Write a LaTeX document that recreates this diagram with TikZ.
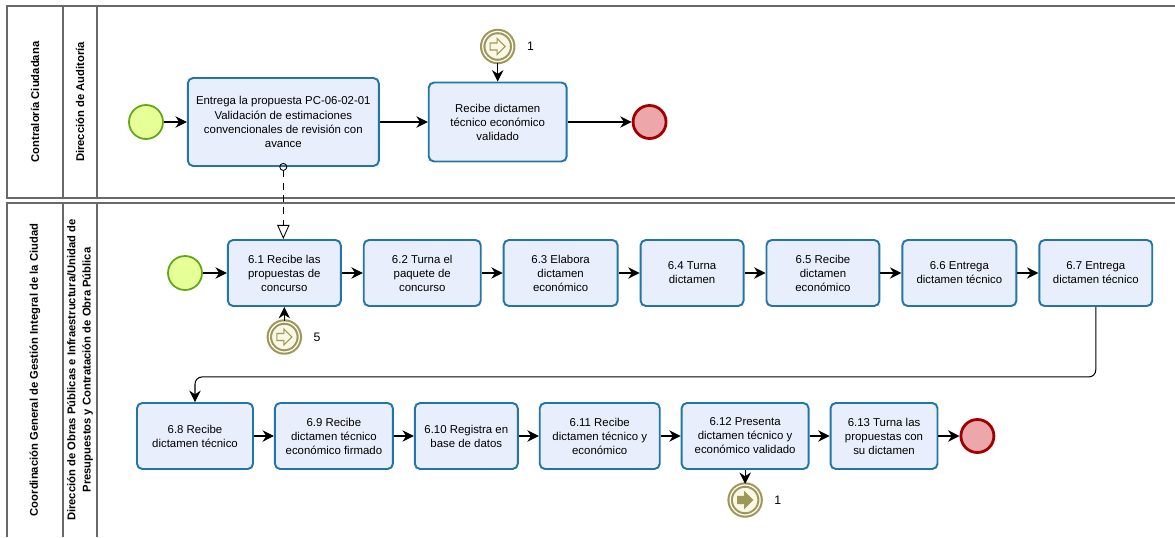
\documentclass[tikz,border=0pt]{standalone}
\usepackage{fontspec}
\setmainfont{Liberation Sans}
\usepackage{tikz}
\usetikzlibrary{arrows.meta, positioning, calc}
\definecolor{taskblue}{RGB}{33,118,166}
\definecolor{taskfill}{RGB}{233,238,252}
\definecolor{startgreen}{RGB}{98,168,22}
\definecolor{startfill}{RGB}{230,255,151}
\definecolor{endred}{RGB}{162,0,0}
\definecolor{endfill}{RGB}{235,167,169}
\definecolor{linkolive}{RGB}{158,152,88}
\definecolor{linkfill}{RGB}{249,247,230}
\definecolor{poolgray}{RGB}{105,105,105}
\newcommand{\linkarrow}[2]{%
  \draw[linkolive, fill=#2, line width=0.6pt, shift={(#1.center)}]
    (-7.5,-3.5) -- (-0.5,-3.5) -- (-0.5,-8) -- (7.5,0) -- (-0.5,8) -- (-0.5,3.5) -- (-7.5,3.5) -- cycle;}

\begin{document}
\begin{tikzpicture}[
    x=0.02cm, y=-0.02cm,
    task/.style={
        rectangle,
        draw=taskblue,
        fill=taskfill,
        line width=1.1pt,
        rounded corners=3pt,
        minimum width=2.26cm,
        minimum height=1.32cm,
        inner sep=1pt,
        align=center,
        font=\fontsize{6.5}{8}\selectfont
    },
    startev/.style={circle, draw=startgreen, fill=startfill, line width=1pt, minimum size=0.68cm, inner sep=0pt},
    endev/.style={circle, draw=endred, fill=endfill, line width=1.6pt, minimum size=0.66cm, inner sep=0pt},
    linkev/.style={circle, draw=linkolive, double=white, double distance=0.7pt, line width=1.2pt, fill=linkfill, minimum size=0.6cm, inner sep=0pt,
        label={[font=\fontsize{7}{8}\selectfont, label distance=4pt]right:#1}},
    pool/.style={draw=poolgray, line width=1pt},
    poollabel/.style={rotate=90, font=\fontsize{6.4}{8.6}\selectfont\bfseries, align=center},
    flow/.style={-{Stealth[length=6.5pt, width=6.5pt]}, line width=0.6pt},
    msg/.style={dash pattern=on 4pt off 3pt, line width=0.5pt, {Circle[open, length=4.5pt]}-{Triangle[open, length=8pt, width=7pt]}}
]
\useasboundingbox (0,0) rectangle (1175,537);

% pools and lanes
\draw[pool] (1175,6) -- (7,6) -- (7,198) -- (1175,198);
\draw[pool] (63,6) -- (63,198) (97,6) -- (97,198);
\draw[pool] (1175,203) -- (7,203) -- (7,537);
\draw[pool] (63,203) -- (63,537) (97,203) -- (97,537);
\node[poollabel] (pool1) at (35,102) {Contraloría Ciudadana};
\node[poollabel] (lane1) at (80,102) {Dirección de Auditoría};
\node[poollabel] (pool2) at (35,370) {Coordinación General de Gestión Integral de la Ciudad};
\node[poollabel] (lane2) at (80,370) {Dirección de Obras Públicas e Infraestructura/Unidad de\\Presupuestos y Contratación de Obra Pública};

% Contraloria
\node[startev] (startA) at (146,122) {};
\node[task, minimum width=3.82cm, minimum height=1.76cm, right=0.46cm of startA] (entrega)
    {Entrega la propuesta PC-06-02-01\\Validación de estimaciones\\convencionales de revisión con\\avance};
\node[task, minimum width=2.76cm, minimum height=1.58cm, right=0.96cm of entrega] (recibeA)
    {Recibe dictamen\\técnico económico\\validado};
\node[endev, right=1.28cm of recibeA] (endA) {};
\node[linkev=1, above=0.38cm of recibeA] (linkA) {};
\linkarrow{linkA}{linkfill}

\draw[flow] (startA) -- (entrega);
\draw[flow] (entrega) -- (recibeA);
\draw[flow] (recibeA) -- (endA);
\draw[flow] (linkA) -- (recibeA);

% Coordinacion, first row
\node[startev] (startB) at (185,273) {};
\node[task, right=0.48cm of startB] (t61) {6.1 Recibe las\\propuestas de\\concurso};
\node[task, minimum width=2.34cm, right=0.42cm of t61] (t62) {6.2 Turna el\\paquete de\\concurso};
\node[task, minimum width=2.28cm, right=0.42cm of t62] (t63) {6.3 Elabora\\dictamen\\económico};
\node[task, minimum width=2.06cm, right=0.42cm of t63] (t64) {6.4 Turna\\dictamen};
\node[task, right=0.42cm of t64] (t65) {6.5 Recibe\\dictamen\\económico};
\node[task, minimum width=2.28cm, right=0.42cm of t65] (t66) {6.6 Entrega\\dictamen técnico};
\node[task, right=0.42cm of t66] (t67) {6.7 Entrega\\dictamen técnico};
\node[linkev=5, below=0.28cm of t61] (link5) {};
\linkarrow{link5}{linkfill}

% second row
\node[task, minimum width=2.32cm] (t68) at (195,436) {6.8 Recibe\\dictamen técnico};
\node[task, minimum width=2.36cm, right=0.40cm of t68] (t69) {6.9 Recibe\\dictamen técnico\\económico firmado};
\node[task, minimum width=2.06cm, right=0.40cm of t69] (t610) {6.10 Registra en\\base de datos};
\node[task, minimum width=2.4cm, right=0.40cm of t610] (t611) {6.11 Recibe\\dictamen técnico y\\económico};
\node[task, minimum width=2.54cm, right=0.40cm of t611] (t612) {6.12 Presenta\\dictamen técnico y\\económico validado};
\node[task, minimum width=2.14cm, right=0.40cm of t612] (t613) {6.13 Turna las\\propuestas con\\su dictamen};
\node[endev, right=0.42cm of t613] (endB) {};
\node[linkev=1, below=0.28cm of t612] (linkB) {};
\linkarrow{linkB}{linkolive}

\foreach \a/\b in {startB/t61, t61/t62, t62/t63, t63/t64, t64/t65, t65/t66, t66/t67,
                   t68/t69, t69/t610, t610/t611, t611/t612, t612/t613, t613/endB}
    \draw[flow] (\a) -- (\b);
\draw[flow] (link5) -- (t61);
\draw[flow] (t612) -- (linkB);
\draw[flow, rounded corners=4pt] (t67.south) -- ($(t67.south)+(0,70)$) -| (t68.north);

% message flow
\draw[msg] ($(entrega.south)+(0,-4)$) -- (entrega.south |- t61.north);

\end{tikzpicture}
\end{document}
